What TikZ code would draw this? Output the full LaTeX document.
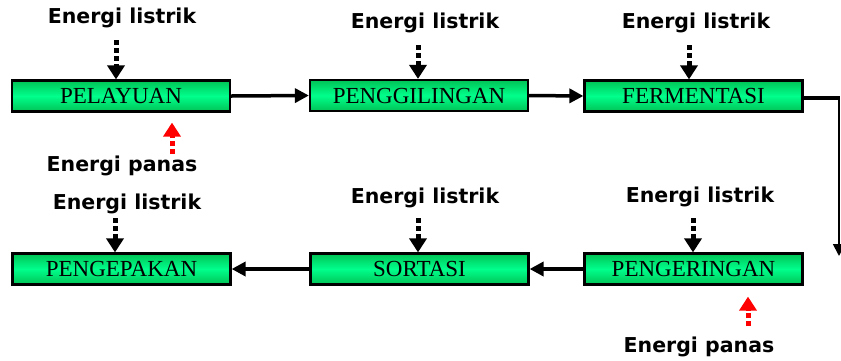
\documentclass[tikz,border=0pt]{standalone}
\usepackage{fontspec}
\setmainfont{Liberation Serif}
\newfontfamily\lblfont{DejaVu Sans}
\usetikzlibrary{arrows.meta}
\definecolor{boxdark}{RGB}{0,195,85}
\definecolor{boxlight}{RGB}{0,255,140}
\begin{document}
\begin{tikzpicture}[x=1pt,y=-1pt,
 box/.style={draw=black,line width=2.2pt,minimum width=218pt,minimum height=31pt,inner sep=0pt,
   top color=boxdark,bottom color=boxdark,middle color=boxlight,
   font=\fontsize{23}{23}\selectfont},
 lbl/.style={font=\lblfont\bfseries\fontsize{20.5}{21}\selectfont,inner sep=0pt},
 flow/.style={line width=3.5pt,-{Triangle[length=14pt,width=14pt]}},
 elec/.style={line width=5pt,dash pattern=on 5pt off 3pt,-{Triangle[length=14pt,width=17pt]}},
 heat/.style={elec,red},
]
\useasboundingbox (0,0) rectangle (841,360);
% process boxes
\node[box] (p1) at (121,96) {PELAYUAN};
\node[box] (p2) at (419,95.5) {PENGGILINGAN};
\node[box] (p3) at (693.5,96) {FERMENTASI};
\node[box] (p4) at (121.5,269) {PENGEPAKAN};
\node[box] (p5) at (419.5,269) {SORTASI};
\node[box] (p6) at (693.5,269) {PENGERINGAN};
% labels
\node[lbl] (l1) at (122,18) {Energi listrik};
\node[lbl] (l2) at (425,23) {Energi listrik};
\node[lbl] (l3) at (696,23) {Energi listrik};
\node[lbl] (l4) at (127,204) {Energi listrik};
\node[lbl] (l5) at (425,198) {Energi listrik};
\node[lbl] (l6) at (700,197) {Energi listrik};
\node[lbl] (h1) at (122,166) {Energi panas};
\node[lbl] (h2) at (699,347) {Energi panas};
% electric energy arrows
\coordinate (e1) at (116,40);
\coordinate (e2) at (418,45);
\coordinate (e3) at (689,45);
\coordinate (e4) at (115,218);
\coordinate (e5) at (418,218);
\coordinate (e6) at (693,218);
\draw[elec] (e1) -- (e1 |- p1.north);
\draw[elec] (e2) -- (e2 |- p2.north);
\draw[elec] (e3) -- (e3 |- p3.north);
\draw[elec] (e4) -- (e4 |- p4.north);
\draw[elec] (e5) -- (e5 |- p5.north);
\draw[elec] (e6) -- (e6 |- p6.north);
% heat arrows
\coordinate (t1) at (172,154);
\coordinate (t2) at (748,326);
\draw[heat,shorten >=10pt] (t1) -- (t1 |- p1.south);
\draw[heat,shorten >=11pt] (t2) -- (t2 |- p6.south);
% flow connectors
\draw[flow] (p1.east) -- (p2.west);
\draw[flow] (p2.east) -- (p3.west);
\coordinate (corner) at (839,98);
\coordinate (free) at (839,256);
\draw[line width=3.5pt] (p3.east |- corner) -- ([xshift=1pt]corner);
\draw[line width=1.8pt,-{Triangle[length=12pt,width=12pt]}] (corner) -- (free);
\draw[flow] (p6.west) -- (p5.east);
\draw[flow] (p5.west) -- (p4.east);
\end{tikzpicture}
\end{document}
